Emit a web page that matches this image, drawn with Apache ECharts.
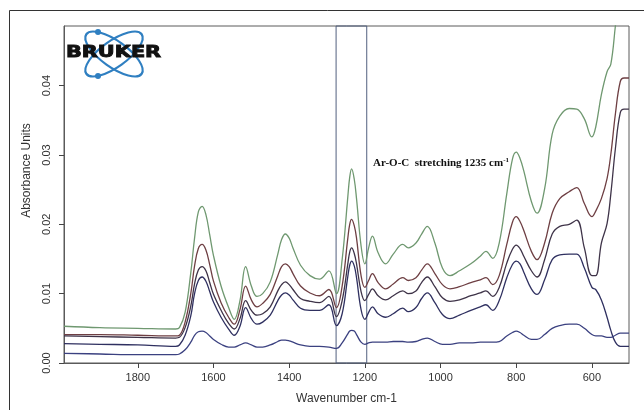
<!DOCTYPE html>
<html>
<head>
<meta charset="utf-8">
<script src="https://cdn.jsdelivr.net/npm/echarts@6/dist/echarts.min.js"></script>
<style>
  html, body { margin: 0; padding: 0; background: #fff; }
  #chart { width: 644px; height: 410px; }
</style>
</head>
<body>
<div id="chart"></div>
<script>
// wavenumber grid (cm-1), shared by all spectra
var wavenumbers = [1995, 1900, 1800, 1700, 1690, 1675,
  1660, 1650, 1640, 1630, 1620, 1610, 1600,
  1580, 1560, 1545, 1530, 1515, 1500, 1485, 1470, 1450,
  1430, 1420, 1410, 1400, 1390,
  1370, 1345, 1320, 1295, 1275,
  1260, 1245, 1240, 1235, 1228, 1222, 1210,
  1200, 1190, 1180, 1165, 1145, 1125, 1100, 1085, 1065, 1050, 1035, 1015, 995, 975, 950, 920, 895, 880, 862, 845,
  825, 810, 800, 790, 780,
  760, 745, 725, 705, 685, 660, 640, 620, 600, 590, 575, 560, 550, 538, 525, 515, 502]

var spectrumGreen = [.0053, .0051, .0050, .0049, .0051, .0073,
  .0130, .0180, .0218, .0226, .0214, .0185, .0155,
  .0111, .0080, .0063, .0090, .0139, .0111, .0096, .0100, .0117,
  .0157, .0178, .0186, .0180, .0166,
  .0141, .0126, .0121, .0133, .0100,
  .0149, .0240, .0268, .0280, .0265, .0237, .0169,
  .0143, .0166, .0183, .0159, .0143, .0157, .0171, .0166, .0173, .0186, .0197, .0173, .0137, .0126, .0133, .0143, .0154, .0161, .0151, .0173,
  .0244, .0294, .0304, .0295, .0277,
  .0233, .0216, .0251, .0330, .0356, .0367, .0366, .0352, .0326, .0340, .0387, .0420, .0431, .0486, .0550, .0580, .0600]

var spectrumBrown = [.0041, .0041, .0040, .0039, .0040, .0059,
  .0100, .0140, .0165, .0171, .0163, .0142, .0118,
  .0087, .0066, .0056, .0077, .0111, .0091, .0081, .0086, .0099,
  .0126, .0139, .0143, .0139, .0129,
  .0111, .0101, .0097, .0106, .0080,
  .0111, .0180, .0200, .0207, .0198, .0180, .0126,
  .0109, .0119, .0129, .0116, .0107, .0114, .0123, .0119, .0123, .0134, .0143, .0129, .0113, .0107, .0110, .0116, .0120, .0123, .0113, .0126,
  .0171, .0203, .0211, .0204, .0191,
  .0161, .0149, .0173, .0216, .0237, .0247, .0253, .0230, .0211, .0219, .0237, .0266, .0301, .0359, .0406, .0411, .0411]

var spectrumPurple = [.0039, .0038, .0037, .0036, .0037, .0051,
  .0082, .0114, .0134, .0139, .0133, .0116, .0099,
  .0076, .0057, .0049, .0064, .0090, .0076, .0069, .0071, .0081,
  .0104, .0113, .0117, .0113, .0106,
  .0093, .0089, .0087, .0096, .0067,
  .0090, .0143, .0160, .0166, .0158, .0143, .0103,
  .0090, .0099, .0107, .0097, .0091, .0097, .0104, .0100, .0104, .0116, .0124, .0110, .0094, .0089, .0091, .0097, .0101, .0104, .0096, .0109,
  .0144, .0164, .0170, .0165, .0154,
  .0133, .0124, .0149, .0186, .0197, .0200, .0206, .0166, .0126, .0126, .0173, .0201, .0244, .0309, .0361, .0366, .0366]

var spectrumNavy = [.0028, .0027, .0026, .0024, .0026, .0040,
  .0068, .0100, .0119, .0124, .0118, .0103, .0088,
  .0066, .0049, .0040, .0053, .0080, .0064, .0056, .0059, .0069,
  .0090, .0098, .0101, .0098, .0091,
  .0079, .0076, .0076, .0084, .0054,
  .0071, .0125, .0141, .0147, .0140, .0123, .0077,
  .0063, .0073, .0081, .0071, .0066, .0071, .0079, .0074, .0080, .0093, .0101, .0087, .0070, .0064, .0069, .0076, .0081, .0084, .0076, .0090,
  .0123, .0142, .0147, .0143, .0131,
  .0107, .0099, .0120, .0149, .0156, .0157, .0157, .0137, .0109, .0106, .0091, .0066, .0047, .0030, .0024, .0024, .0024]

var spectrumBlue = [.0014, .0013, .0012, .0012, .0013, .0019,
  .0030, .0040, .0045, .0046, .0044, .0039, .0034,
  .0027, .0023, .0023, .0026, .0029, .0026, .0023, .0023, .0026,
  .0031, .0033, .0033, .0032, .0030,
  .0026, .0024, .0024, .0023, .0021,
  .0029, .0042, .0046, .0047, .0046, .0041, .0030,
  .0027, .0029, .0030, .0030, .0030, .0031, .0031, .0030, .0031, .0034, .0036, .0031, .0027, .0027, .0029, .0029, .0030, .0030, .0030, .0031,
  .0039, .0044, .0046, .0044, .0040,
  .0034, .0034, .0041, .0050, .0054, .0056, .0056, .0050, .0041, .0039, .0039, .0037, .0037, .0040, .0043, .0043, .0043]

var xTicks = [1800, 1600, 1400, 1200, 1000, 800, 600]
var yTicks = [0, 0.01, 0.02, 0.03, 0.04]
var highlightBand = [1276, 1195]

function pairs (values) {
  return wavenumbers.map(function (w, i) { return [w, values[i]] })
}

var chartDom = document.getElementById('chart')
var myChart = echarts.init(chartDom)

var lineSeries = [
  { data: spectrumGreen, color: '#6f9870' },
  { data: spectrumBrown, color: '#6e3f43' },
  { data: spectrumPurple, color: '#3e3348' },
  { data: spectrumNavy, color: '#2f3060' },
  { data: spectrumBlue, color: '#3b4180' }
].map(function (s) {
  return {
    type: 'line',
    data: pairs(s.data),
    symbol: 'none',
    smooth: 0.4,
    clip: true,
    lineStyle: { color: s.color, width: 1.3 },
    silent: true
  }
})

// boxed region around the Ar-O-C band
lineSeries[0].markArea = {
  silent: true,
  itemStyle: { color: 'rgba(0,0,0,0)', borderColor: '#52607f', borderWidth: 1 },
  data: [[{ coord: [highlightBand[0], 0] }, { coord: [highlightBand[1], 0.0486] }]]
}

var option = {
  animation: false,
  backgroundColor: '#fff',
  grid: {
    left: 64, right: 15, top: 26, bottom: 44,
    show: true, borderColor: '#5a5a5a', borderWidth: 1
  },
  xAxis: {
    type: 'value',
    inverse: true,
    min: 502,
    max: 1995,
    name: 'Wavenumber cm-1',
    nameLocation: 'middle',
    nameGap: 30,
    nameTextStyle: { fontFamily: 'Liberation Sans', fontSize: 12, color: '#333' },
    axisLine: { show: true, lineStyle: { color: '#5a5a5a' } },
    axisTick: { show: true, customValues: xTicks, length: 5, lineStyle: { color: '#444' } },
    axisLabel: {
      customValues: xTicks,
      fontFamily: 'Liberation Sans',
      fontSize: 11,
      color: '#333',
      margin: 9,
      formatter: function (v) { return String(v) }
    },
    splitLine: { show: false }
  },
  yAxis: {
    type: 'value',
    min: 0,
    max: 0.0486,
    name: 'Absorbance Units',
    nameLocation: 'middle',
    nameGap: 30,
    nameTextStyle: { fontFamily: 'Liberation Sans', fontSize: 12, color: '#333', padding: [0, 0, 0, 48] },
    axisLine: { show: true, lineStyle: { color: '#5a5a5a' } },
    axisTick: { show: true, customValues: yTicks, length: 5, lineStyle: { color: '#444' } },
    axisLabel: {
      customValues: yTicks,
      rotate: 90,
      fontFamily: 'Liberation Sans',
      fontSize: 11,
      color: '#333',
      margin: 12,
      formatter: function (v) { return v.toFixed(2) }
    },
    splitLine: { show: false }
  },
  graphic: [
    // outer figure frame
    { type: 'rect', shape: { x: 9.5, y: 10.5, width: 700, height: 500 }, style: { fill: 'none', stroke: '#333', lineWidth: 1 }, silent: true },
    // Bruker logo
    { type: 'ellipse', x: 114, y: 54, rotation: 0.62, shape: { cx: 0, cy: 0, rx: 34, ry: 13 }, style: { fill: 'none', stroke: '#2f7fc1', lineWidth: 2.2 }, silent: true },
    { type: 'ellipse', x: 114, y: 54, rotation: -0.62, shape: { cx: 0, cy: 0, rx: 34, ry: 13 }, style: { fill: 'none', stroke: '#2f7fc1', lineWidth: 2.2 }, silent: true },
    { type: 'circle', shape: { cx: 98, cy: 32, r: 3 }, style: { fill: '#2f7fc1' }, silent: true },
    { type: 'circle', shape: { cx: 98, cy: 76, r: 3 }, style: { fill: '#2f7fc1' }, silent: true },
    {
      type: 'text', x: 66, y: 45, scaleX: 1.3, silent: true,
      style: { text: 'BRUKER', font: 'bold 16px "DejaVu Sans"', fill: '#111', stroke: '#111', lineWidth: 0.9, align: 'left', verticalAlign: 'top' }
    },
    // band annotation
    {
      type: 'text', x: 373, y: 157, silent: true,
      style: {
        text: '{a|Ar-O-C  stretching 1235 cm}{s|-1}',
        align: 'left',
        verticalAlign: 'top',
        rich: {
          a: { fontFamily: 'Liberation Serif', fontWeight: 'bold', fontSize: 11, fill: '#111', color: '#111' },
          s: { fontFamily: 'Liberation Serif', fontWeight: 'bold', fontSize: 7, fill: '#111', color: '#111', verticalAlign: 'top', padding: [0, 0, 6, 0] }
        }
      }
    }
  ],
  series: lineSeries
}

option && myChart.setOption(option)
</script>
</body>
</html>
